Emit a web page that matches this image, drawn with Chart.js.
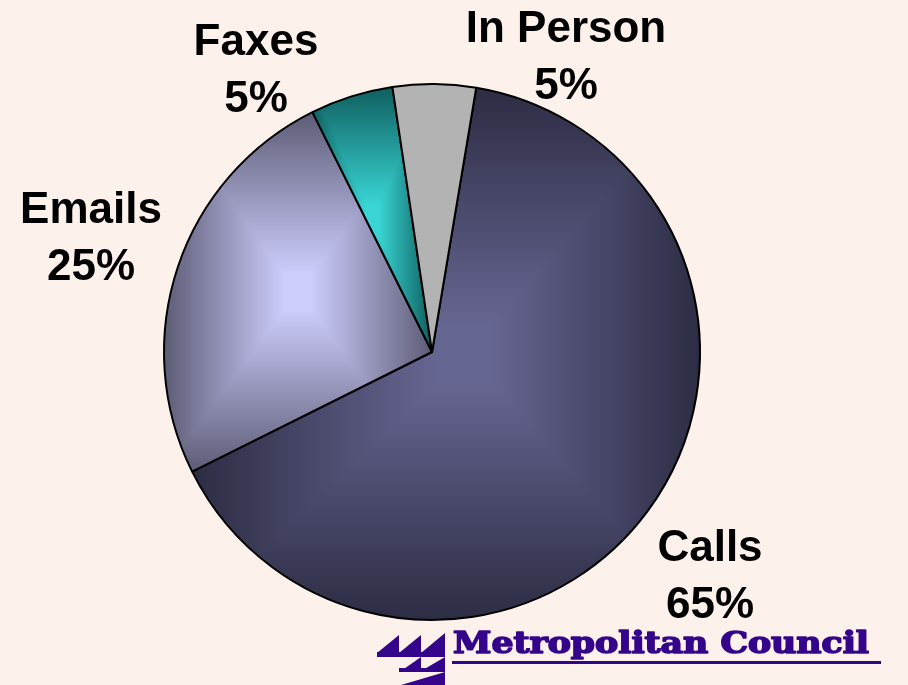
<!DOCTYPE html>
<html>
<head>
<meta charset="utf-8">
<script src="https://cdn.jsdelivr.net/npm/chart.js@4/dist/chart.umd.min.js"></script>
<style>
  html, body { margin: 0; padding: 0; background: #fdf1ec; }
  #wrap { width: 908px; height: 685px; }
</style>
</head>
<body>
<div id="wrap"><canvas id="c" width="908" height="685"></canvas></div>
<script>
// ---- data ----
const categories = ['Calls', 'Emails', 'Faxes', 'In Person'];
const shares = [65, 25, 5, 5];
const percentLabels = ['65%', '25%', '5%', '5%'];

// ---- style ----
const centerColors = [[102, 102, 146], [205, 205, 252], [58, 214, 214], [179, 179, 179]];
const edgeColors   = [[44, 44, 68], [92, 92, 118], [14, 94, 94], [179, 179, 179]];
const focusShift   = [[20, 0], [0, 0], [0, 0], [0, 0]];
const labelAnchors = [[710, 561], [91, 223], [256, 55], [566, 42]];
const startRotation = 9.5;

const rgb = c => `rgb(${c[0]},${c[1]},${c[2]})`;

function sliceFill(context) {
  const i = context.dataIndex;
  const chart = context.chart;
  if (i === undefined) return rgb(centerColors[0]);
  const cc = centerColors[i], ec = edgeColors[i];
  if (cc.join() === ec.join()) return rgb(cc);
  const ctrl = chart.getDatasetMeta(0).controller;
  const area = chart.chartArea;
  if (!area || !ctrl || !ctrl.outerRadius) return rgb(cc);
  const r = ctrl.outerRadius;
  const cx = (area.left + area.right) / 2 + (ctrl.offsetX || 0);
  const cy = (area.top + area.bottom) / 2 + (ctrl.offsetY || 0);
  const total = shares.reduce((a, b) => a + b, 0);
  let before = 0;
  for (let k = 0; k < i; k++) before += shares[k];
  const a0 = -Math.PI / 2 + startRotation * Math.PI / 180 + before / total * 2 * Math.PI;
  const a1 = a0 + shares[i] / total * 2 * Math.PI;
  const pts = [[cx, cy], [cx + r * Math.cos(a0), cy + r * Math.sin(a0)], [cx + r * Math.cos(a1), cy + r * Math.sin(a1)]];
  for (let q = -8; q <= 8; q++) {
    const a = q * Math.PI / 2;
    if (a > a0 && a < a1) pts.push([cx + r * Math.cos(a), cy + r * Math.sin(a)]);
  }
  const x0 = Math.min(...pts.map(p => p[0])), x1 = Math.max(...pts.map(p => p[0]));
  const y0 = Math.min(...pts.map(p => p[1])), y1 = Math.max(...pts.map(p => p[1]));
  const mx = (x0 + x1) / 2 + focusShift[i][0], my = (y0 + y1) / 2 + focusShift[i][1];
  const off = document.createElement('canvas');
  off.width = chart.width; off.height = chart.height;
  const g = off.getContext('2d');
  const W = off.width, H = off.height;
  const img = g.createImageData(W, H);
  const d = img.data;
  const plateau = 0.1;
  for (let y = 0; y < H; y++) {
    const dy = y + 0.5 - my;
    const ty = dy < 0 ? -dy / (my - y0) : dy / (y1 - my);
    for (let x = 0; x < W; x++) {
      const dx = x + 0.5 - mx;
      const tx = dx < 0 ? -dx / (mx - x0) : dx / (x1 - mx);
      let t = Math.max(tx, ty);
      t = Math.min(1, Math.max(0, (t - plateau) / (1 - plateau)));
      const o = (y * W + x) * 4;
      d[o] = cc[0] + (ec[0] - cc[0]) * t;
      d[o + 1] = cc[1] + (ec[1] - cc[1]) * t;
      d[o + 2] = cc[2] + (ec[2] - cc[2]) * t;
      d[o + 3] = 255;
    }
  }
  g.putImageData(img, 0, 0);
  return chart.ctx.createPattern(off, 'no-repeat');
}

const labelPlugin = {
  id: 'labels',
  afterDraw(chart) {
    const ctx = chart.ctx;
    ctx.save();
    ctx.fillStyle = '#000';
    ctx.font = 'bold 44px "Liberation Sans", Arial, sans-serif';
    ctx.textAlign = 'center';
    ctx.textBaseline = 'alphabetic';
    categories.forEach((name, i) => {
      const [x, y] = labelAnchors[i];
      ctx.fillText(name, x, y);
      ctx.fillText(percentLabels[i], x, y + 57);
    });
    ctx.restore();

    // Metropolitan Council logo
    ctx.save();
    const purple = '#34058a';
    ctx.fillStyle = purple;
    const poly = (p) => { ctx.beginPath(); ctx.moveTo(p[0], p[1]); for (let k = 2; k < p.length; k += 2) ctx.lineTo(p[k], p[k + 1]); ctx.closePath(); ctx.fill(); };
    poly([377, 653, 399, 635, 399, 653]);
    poly([399, 653, 421, 635, 421, 653]);
    poly([421, 653, 445, 633, 445, 653]);
    ctx.fillRect(377, 652, 68, 5);
    poly([401, 671, 421, 657, 421, 671]);
    poly([421, 671, 445, 657, 445, 671]);
    ctx.fillRect(399, 668, 46, 4);
    poly([401, 685, 445, 672, 445, 685]);
    ctx.font = 'bold 29px "DejaVu Serif", serif';
    ctx.textAlign = 'left';
    const txt = 'Metropolitan Council';
    const w = ctx.measureText(txt).width;
    ctx.translate(453, 653);
    ctx.scale(416 / w, 1);
    ctx.strokeStyle = purple;
    ctx.lineWidth = 1.6;
    ctx.lineJoin = 'round';
    ctx.strokeText(txt, 0, 0);
    ctx.fillText(txt, 0, 0);
    ctx.restore();
    ctx.save();
    ctx.fillStyle = purple;
    ctx.fillRect(452, 661, 429, 3);
    ctx.restore();
  }
};

new Chart(document.getElementById('c'), {
  type: 'pie',
  data: {
    labels: categories,
    datasets: [{
      data: shares,
      backgroundColor: sliceFill,
      borderColor: '#000',
      borderWidth: 2
    }]
  },
  options: {
    responsive: false,
    animation: false,
    events: [],
    rotation: startRotation,
    layout: { padding: { left: 163, top: 83, right: 207, bottom: 64 } },
    plugins: { legend: { display: false }, tooltip: { enabled: false }, title: { display: false } }
  },
  plugins: [labelPlugin]
});
</script>
</body>
</html>
